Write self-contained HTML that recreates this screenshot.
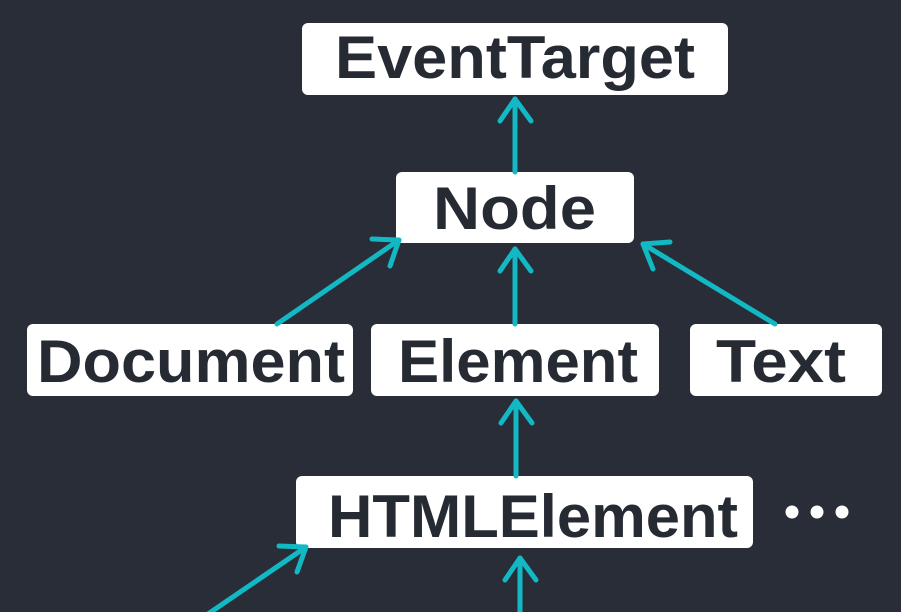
<!DOCTYPE html>
<html><head><meta charset="utf-8"><style>
html,body{margin:0;padding:0;background:#282d37;}
svg{display:block}
text{font-family:"Liberation Sans",sans-serif;font-weight:bold;fill:#262a33;}
</style></head><body>
<svg width="901" height="612" viewBox="0 0 901 612" xmlns="http://www.w3.org/2000/svg">
<rect width="901" height="612" fill="#282d37"/>
<g fill="#fff">
<rect x="302" y="23" width="426" height="72" rx="6"/>
<rect x="396" y="172" width="238" height="71" rx="6"/>
<rect x="27" y="324" width="326" height="72" rx="6"/>
<rect x="371" y="324" width="288" height="72" rx="6"/>
<rect x="690" y="324" width="192" height="72" rx="6"/>
<rect x="296" y="476" width="457" height="72" rx="6"/>
<circle cx="792" cy="512" r="6.5"/><circle cx="817" cy="512" r="6.5"/><circle cx="842" cy="512" r="6.5"/>
</g>
<g font-size="60">
<text x="335" y="78" textLength="360" lengthAdjust="spacingAndGlyphs">EventTarget</text>
<text x="433" y="229" textLength="163" lengthAdjust="spacingAndGlyphs">Node</text>
<text x="37" y="382" textLength="308" lengthAdjust="spacingAndGlyphs">Document</text>
<text x="398" y="382" textLength="240" lengthAdjust="spacingAndGlyphs">Element</text>
<text x="716" y="382" textLength="130" lengthAdjust="spacingAndGlyphs">Text</text>
<text x="328" y="537" textLength="410" lengthAdjust="spacingAndGlyphs">HTMLElement</text>
</g>
<g stroke="#12b8c4" stroke-width="5" stroke-linecap="round" stroke-linejoin="round" fill="none">
<line x1="515" y1="172" x2="515" y2="99"/><polyline points="500,121 515,99 531,121"/>
<line x1="277" y1="324" x2="399" y2="240"/><polyline points="372,239 399,240 390,266"/>
<line x1="515" y1="324" x2="515" y2="249"/><polyline points="500,271 515,249 531,271"/>
<line x1="775" y1="324" x2="643" y2="244"/><polyline points="653,269 643,244 670,242"/>
<line x1="516" y1="476" x2="516" y2="401"/><polyline points="501,423 516,401 532,423"/>
<line x1="520" y1="615" x2="520" y2="558"/><polyline points="505,580 520,558 536,580"/>
<line x1="208" y1="614" x2="306" y2="547"/><polyline points="279,546 306,547 297,572"/>
</g>
</svg>
</body></html>
